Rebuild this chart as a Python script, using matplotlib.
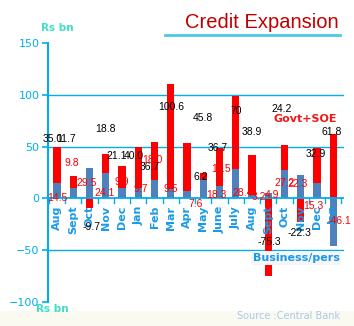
import matplotlib.pyplot as plt
import numpy as np
from matplotlib.lines import Line2D
from matplotlib.patches import Rectangle

# Monthly credit expansion, Rs bn
months = ['Aug', 'Sept', 'Oct', 'Nov', 'Dec', 'Jan', 'Feb', 'Mar', 'Apr',
          'May', 'June', 'July', 'Aug', 'Sept', 'Oct', 'Nov', 'Dec', 'Jan']
business = [14.5, 9.8, 29.5, 24.1, 9.9, 9.7, 18.0, 9.5, 7.6,
            18.3, 11.5, 28.4, 3.2, 4.9, 27.2, 22.3, 15.3, -46.1]
govt_soe = [35.0, 11.7, -9.7, 18.8, 21.1, 40.0, 36.7, 100.6, 45.8,
            6.2, 36.7, 70, 38.9, -75.3, 24.2, -22.3, 32.9, 61.8]

# Hand-placed label anchors (data coords), as laid out in the sheet
govt_lbl_pos = [(-0.25, 57.7), (0.55, 57.7), (2.1, -27.5), (3.0, 67), (3.7, 41),
                (4.7, 40.5), (5.7, 30), (7.0, 88), (9.0, 77.5), (8.85, 21),
                (9.9, 49), (11.0, 84), (12.0, 64), (13.05, -42), (13.85, 86.5),
                (14.95, -33), (15.9, 43), (16.9, 64)]
bus_lbl_pos = [(0.0, 0.0), (0.9, 34.6), (1.8, 14.4), (2.95, 4.8), (4.0, 16),
               (5.15, 8.7), (5.9, 37.5), (7.0, 8.7), (8.5, -5), (9.8, 3),
               (10.1, 28), (11.45, 5), (12.4, 1), (13.2, 3), (14.0, 15),
               (14.8, 13.5), (15.75, -7.7), (17.4, -22)]

AXIS_BLUE = '#00aeef'
RED = '#ff0000'
STEEL = '#4f81bd'

W, H = 354, 326
fig = plt.figure(figsize=(W / 100, H / 100), dpi=100)
fig.patch.set_facecolor('white')

# pale strip along the bottom
fig.add_artist(Rectangle((0, 0), 1, 15 / H, transform=fig.transFigure,
                         facecolor='#fafaf0', edgecolor='none', zorder=0))

ax = fig.add_axes([48 / W, 1 - 302 / H, (344 - 48) / W, (302 - 43) / H])
ax.set_facecolor('none')

x = np.arange(len(months))
bus = np.array(business)
gov = np.array(govt_soe)

# stack positives on positives, negatives on negatives
gov_bottom = np.where(gov >= 0, np.clip(bus, 0, None), np.clip(bus, None, 0))
ax.bar(x, bus, width=0.45, color=STEEL, zorder=2)
ax.bar(x, gov, width=0.45, bottom=gov_bottom, color=RED, zorder=2)

ax.set_xlim(-0.554, 17.66)
ax.set_ylim(-100, 150)

for yv in (100, 50, -50):
    ax.axhline(yv, color=AXIS_BLUE, lw=1.0, zorder=1)
ax.axhline(0, color=AXIS_BLUE, lw=1.3, zorder=3)

# category boundary ticks on the zero line
for b in np.arange(-0.5, len(months), 1.0):
    ax.plot([b, b], [0, -4], color=AXIS_BLUE, lw=1.0, zorder=3, clip_on=False)

for xi, m in zip(x, months):
    ax.text(xi, -7, m, rotation=90, ha='center', va='top', fontsize=8,
            fontweight='bold', color='#1a9ae6', family='DejaVu Sans', zorder=5)

for spine in ['top', 'right', 'bottom']:
    ax.spines[spine].set_visible(False)
ax.spines['left'].set_color(AXIS_BLUE)
ax.spines['left'].set_linewidth(1.5)
ax.set_xticks([])
ax.set_yticks([-100, -50, 0, 50, 100, 150])
ax.tick_params(axis='y', colors=AXIS_BLUE, length=4, width=1.2, labelsize=8,
               pad=2)
for lbl in ax.get_yticklabels():
    lbl.set_color(AXIS_BLUE)

# value labels
for v, (lx, ly) in zip(govt_soe, govt_lbl_pos):
    ax.text(lx, ly, f'{v:g}' if v == 70 else f'{v:.1f}', ha='center',
            va='center', fontsize=7.5, color='black', family='Liberation Sans',
            zorder=6)
for v, (lx, ly) in zip(business, bus_lbl_pos):
    ax.text(lx, ly, f'{v:.1f}', ha='center', va='center', fontsize=7.5,
            color=RED, family='Liberation Sans', zorder=6)

# titles and annotations
fig.text(262 / W, 1 - 22 / H, 'Credit Expansion', ha='center', va='center',
         fontsize=14.5, color='#c00000', family='Liberation Sans')
fig.add_artist(Line2D([165 / W, 340 / W], [1 - 35 / H] * 2, color='#4cc9e8',
                      lw=2, transform=fig.transFigure))
fig.text(57 / W, 1 - 28 / H, 'Rs bn', ha='center', va='center', fontsize=7.5,
         fontweight='bold', color='#3de0c4', family='DejaVu Sans')
fig.text(52 / W, 1 - 309 / H, 'Rs bn', ha='center', va='center', fontsize=7.5,
         fontweight='bold', color='#3de0c4', family='DejaVu Sans')
fig.text(305 / W, 1 - 119 / H, 'Govt+SOE', ha='center', va='center',
         fontsize=8, fontweight='bold', color='#f01818', family='DejaVu Sans')
fig.text(296 / W, 1 - 258 / H, 'Business/pers', ha='center', va='center',
         fontsize=8, fontweight='bold', color='#1a9ae6', family='DejaVu Sans',
         bbox=dict(boxstyle='square,pad=0.15', fc='#f6f6f6', ec='none'))
fig.text(289 / W, 1 - 316 / H, 'Source :Central Bank', ha='center',
         va='center', fontsize=7, color='#a8c8ec', family='DejaVu Sans')

fig.savefig('out.png', dpi=100)
